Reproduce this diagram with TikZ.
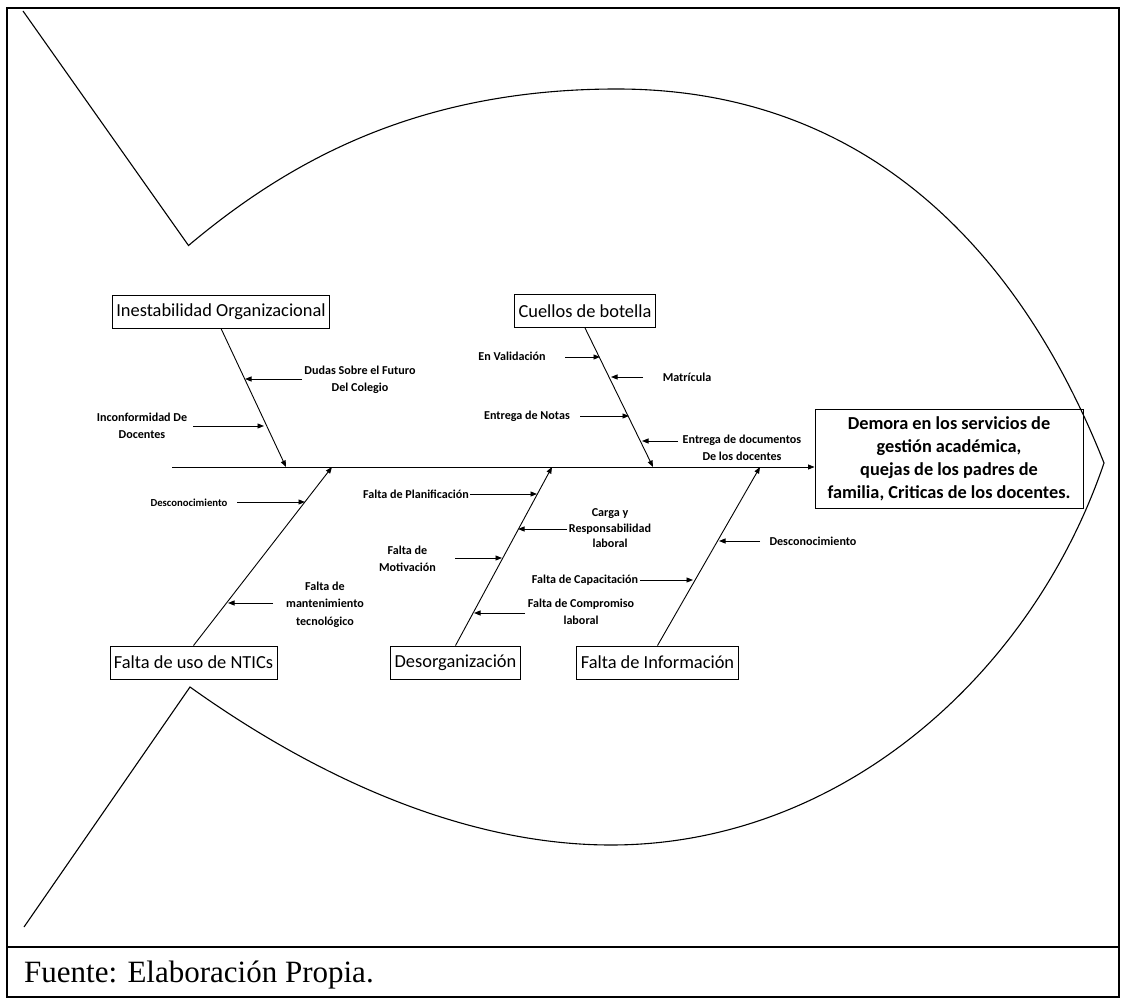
\documentclass[tikz,border=0pt]{standalone}
\usepackage{fontspec}
\setmainfont{Carlito}
\newfontfamily\captionfont{Liberation Serif}
\usetikzlibrary{arrows.meta}

\begin{document}
\begin{tikzpicture}[x=1pt,y=-1pt,
  outline/.style={line width=1.1pt, line join=miter},
  conn/.style={line width=0.9pt, -{Triangle[length=6.5pt,width=5pt]}},
  catbox/.style={draw, line width=0.9pt, font=\fontsize{18.4}{22}\selectfont,
                 inner xsep=4pt, minimum height=33pt},
  effectbox/.style={draw, line width=0.9pt, font=\bfseries\fontsize{18.3}{23}\selectfont,
                    align=center, minimum width=268pt, minimum height=99pt},
  cause/.style={font=\bfseries\fontsize{12.1}{17}\selectfont, align=center, inner sep=0pt},
]
\useasboundingbox (0,0) rectangle (1125,1000);

% page frame and caption strip
\draw[line width=1.2pt] (7,8) rectangle (1119,997);
\draw[line width=1.2pt] (7,947) -- (1119,947);
\node[anchor=base west, inner sep=0pt, font=\captionfont\fontsize{31}{36}\selectfont]
  (src) at (24,982) {Fuente: Elaboración Propia.};

% fish body: tail fins, back and belly
\coordinate (fintop) at (188.5,245.5);
\coordinate (finbot) at (190,687);
\coordinate (mouth) at (1104,463);
\draw[outline] (23,11) -- (fintop)
  .. controls (288.5,161.5) and (417,89) .. (617,89)
  .. controls (867,89) and (1020,251) .. (mouth)
  .. controls (1032,674.5) and (841,845) .. (611,845)
  .. controls (431,845) and (268.4,743) .. (finbot)
  -- (24,927);

% effect
\node[effectbox] (eff) at (949,458.5) {Demora en los servicios de\\gestión académica,\\quejas de los padres de\\familia, Criticas de los docentes.};

% categories
\node[catbox] (org) at (221,311.5) {Inestabilidad Organizacional};
\node[catbox] (cue) at (585,311) {Cuellos de botella};
\node[catbox] (tic) at (193.5,662.5) {Falta de uso de NTICs};
\node[catbox] (des) at (455.5,662.5) {Desorganización};
\node[catbox] (inf) at (657.5,662.5) {Falta de Información};

% spine
\coordinate (tail) at (172,467);
\draw[conn] (tail) -- (tail -| eff.west);

% bones meeting the spine
\coordinate (jorg) at (286,467);
\coordinate (jcue) at (653,467);
\coordinate (jtic) at (332,467);
\coordinate (jdes) at (552,467);
\coordinate (jinf) at (760,467);
\draw[conn] (org.south) -- (jorg);
\draw[conn] (cue.south) -- (jcue);
\draw[conn] (tic.north) -- (jtic);
\draw[conn] (des.north) -- (jdes);
\draw[conn] (inf.north) -- (jinf);

% causes: Inestabilidad Organizacional
\node[cause] (c1) at (360,379.5) {Dudas Sobre el Futuro\\Del Colegio};
\coordinate (c1a) at (302,379); \coordinate (c1b) at (245,379);
\draw[conn] (c1a) -- (c1b);
\node[cause] (c2) at (142,426) {Inconformidad De\\Docentes};
\coordinate (c2a) at (193,426); \coordinate (c2b) at (264,426);
\draw[conn] (c2a) -- (c2b);

% causes: Cuellos de botella
\node[cause] (c3) at (512,356) {En Validación};
\coordinate (c3a) at (565,357); \coordinate (c3b) at (600,357);
\draw[conn] (c3a) -- (c3b);
\node[cause] (c4) at (687,377) {Matrícula};
\coordinate (c4a) at (643,377); \coordinate (c4b) at (611,377);
\draw[conn] (c4a) -- (c4b);
\node[cause] (c5) at (527,416) {Entrega de Notas};
\coordinate (c5a) at (580,416); \coordinate (c5b) at (629,416);
\draw[conn] (c5a) -- (c5b);
\node[cause] (c6) at (742,447.5) {Entrega de documentos\\De los docentes};
\coordinate (c6a) at (678,441); \coordinate (c6b) at (642,441);
\draw[conn] (c6a) -- (c6b);

% causes: Falta de uso de NTICs
\node[cause, font=\bfseries\fontsize{10.7}{15}\selectfont] (c7) at (189,503) {Desconocimiento};
\coordinate (c7a) at (237,502); \coordinate (c7b) at (305,502);
\draw[conn] (c7a) -- (c7b);
\node[cause, font=\bfseries\fontsize{12.1}{17.5}\selectfont] (c8) at (325,604.5) {Falta de\\mantenimiento\\tecnológico};
\coordinate (c8a) at (273,603); \coordinate (c8b) at (228,603);
\draw[conn] (c8a) -- (c8b);

% causes: Desorganización
\node[cause] (c9) at (416,494) {Falta de Planificación};
\coordinate (c9a) at (470,494); \coordinate (c9b) at (537,494);
\draw[conn] (c9a) -- (c9b);
\node[cause, font=\bfseries\fontsize{12.1}{15.5}\selectfont] (c10) at (610,528.5) {Carga y\\Responsabilidad\\laboral};
\coordinate (c10a) at (567,529); \coordinate (c10b) at (518,529);
\draw[conn] (c10a) -- (c10b);
\node[cause] (c11) at (407.5,558.5) {Falta de\\Motivación};
\coordinate (c11a) at (455,558); \coordinate (c11b) at (502,558);
\draw[conn] (c11a) -- (c11b);
\node[cause] (c12) at (581,611.5) {Falta de Compromiso\\laboral};
\coordinate (c12a) at (525,613); \coordinate (c12b) at (474,613);
\draw[conn] (c12a) -- (c12b);

% causes: Falta de Información
\node[cause] (c13) at (813,541) {Desconocimiento};
\coordinate (c13a) at (760,541); \coordinate (c13b) at (719,541);
\draw[conn] (c13a) -- (c13b);
\node[cause] (c14) at (585,580) {Falta de Capacitación};
\coordinate (c14a) at (640,580); \coordinate (c14b) at (693,580);
\draw[conn] (c14a) -- (c14b);
\end{tikzpicture}
\end{document}
